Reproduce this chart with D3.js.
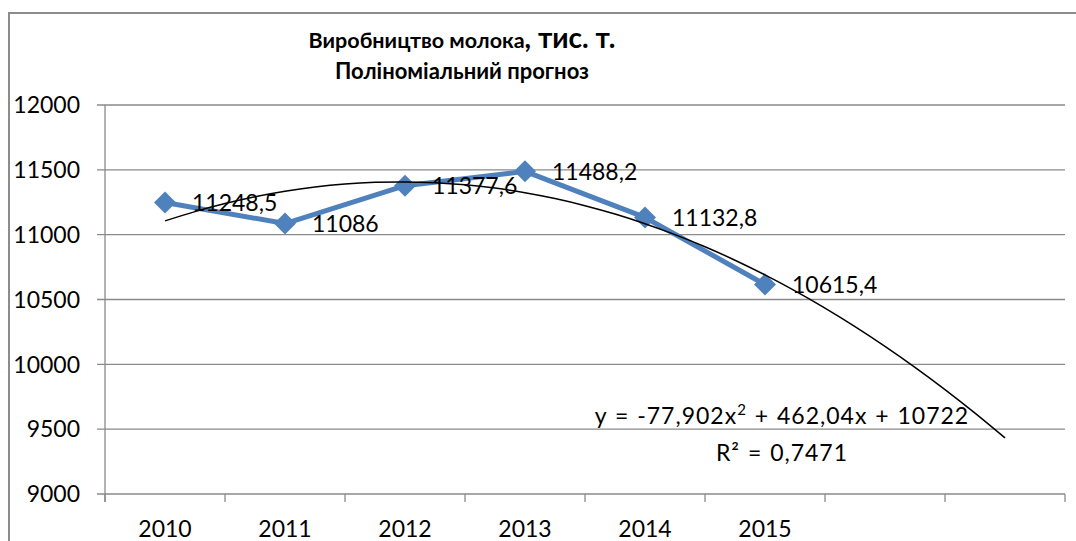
<!DOCTYPE html>
<html><head><meta charset="utf-8">
<script src="https://cdn.jsdelivr.net/npm/d3@7"></script>
<style>body{margin:0;background:#fff}svg{display:block}text{font-family:Lato,"Open Sans",sans-serif}</style>
</head><body><svg id="c" width="1076" height="541"></svg>
<script>
const categories = ["2010","2011","2012","2013","2014","2015","",""];
const values = [11248.5, 11086, 11377.6, 11488.2, 11132.8, 10615.4];
const labels = ["11248,5","11086","11377,6","11488,2","11132,8","10615,4"];
const yTicks = [9000, 9500, 10000, 10500, 11000, 11500, 12000];
const trendCoef = [-77.902, 462.04, 10722]; // y = a x^2 + b x + c
const trendX = [1,1.25,1.5,1.75,2,2.25,2.5,2.75,3,3.25,3.5,3.75,4,4.25,4.5,4.75,5,5.25,5.5,5.75,6,6.25,6.5,6.75,7,7.25,7.5,7.75,8];

const svg = d3.select("#c");
const L = 105, R = 1065, T = 105, B = 494;
const x = d3.scaleBand().domain(d3.range(categories.length)).range([L, R]).padding(0);
const y = d3.scaleLinear().domain([9000, 12000]).range([B, T]);
const xc = i => x(i) + x.bandwidth()/2;
const xn = n => L + (n - 0.5) * x.bandwidth();

// outer border
svg.append("path").attr("d", `M9,541 V13 H1076`).attr("fill","none").attr("stroke","#8c8c8c").attr("stroke-width",2);

// gridlines
svg.append("g").selectAll("line").data(yTicks).join("line")
  .attr("x1", L - 8).attr("x2", R).attr("y1", d => y(d)).attr("y2", d => y(d))
  .attr("stroke", "#8a8a8a").attr("stroke-width", 1.3);
// y labels
svg.append("g").selectAll("text").data(yTicks).join("text")
  .attr("x", 80).attr("y", d => y(d)).attr("dy", "0.36em").attr("text-anchor","end")
  .attr("font-size", 23).attr("fill","#000").text(d => d);
// y axis line
svg.append("line").attr("x1", L).attr("x2", L).attr("y1", T).attr("y2", B + 8).attr("stroke","#8a8a8a").attr("stroke-width",1.3);
// x ticks
svg.append("g").selectAll("line").data(d3.range(categories.length + 1)).join("line")
  .attr("x1", i => L + i * x.bandwidth()).attr("x2", i => L + i * x.bandwidth())
  .attr("y1", B).attr("y2", B + 8).attr("stroke","#8a8a8a").attr("stroke-width",1.3);
svg.append("g").selectAll("text").data(categories).join("text")
  .attr("x", (d,i) => xc(i)).attr("y", 537).attr("text-anchor","middle")
  .attr("font-size", 23).attr("fill","#000").text(d => d);

// title
const t1 = svg.append("text").attr("x", 462).attr("y", 48).attr("text-anchor","middle").attr("font-weight","bold").attr("fill","#000");
t1.append("tspan").attr("font-size", 21.5).text("Виробництво молока");
t1.append("tspan").attr("font-size", 28).text(", тис. т.");
svg.append("text").attr("x", 462).attr("y", 79).attr("text-anchor","middle").attr("font-weight","bold").attr("font-size",22).attr("fill","#000").text("Поліноміальний прогноз");

// series line
const line = d3.line().x((d,i) => xc(i)).y(d => y(d));
svg.append("path").datum(values).attr("d", line).attr("fill","none").attr("stroke","#4F81BD").attr("stroke-width",5).attr("stroke-linejoin","round");
svg.append("g").selectAll("path").data(values).join("path")
  .attr("transform", (d,i) => `translate(${xc(i)},${y(d)})`)
  .attr("d", "M0,-11 L11,0 L0,11 L-11,0 Z").attr("fill","#4F81BD");

// trendline
const tl = d3.line().x(d => xn(d)).y(d => y(trendCoef[0]*d*d + trendCoef[1]*d + trendCoef[2])).curve(d3.curveCatmullRom);
svg.append("path").datum(trendX).attr("d", tl).attr("fill","none").attr("stroke","#000").attr("stroke-width",1.5);

// data labels
svg.append("g").selectAll("text").data(values).join("text")
  .attr("x", (d,i) => xc(i) + 27).attr("y", d => y(d)).attr("dy","0.36em")
  .attr("font-size", 23).attr("fill","#000").text((d,i) => labels[i]);

// equation
const eq = svg.append("text").attr("x", 782).attr("y", 424).attr("text-anchor","middle").attr("font-size",23)
  .attr("letter-spacing","1px").attr("word-spacing","1px").attr("fill","#000");
eq.append("tspan").text("y = -77,902x");
eq.append("tspan").attr("font-size",15).attr("dy",-9).text("2");
eq.append("tspan").attr("dy",9).text(" + 462,04x + 10722");
svg.append("text").attr("x", 782).attr("y", 461).attr("text-anchor","middle").attr("font-size",23)
  .attr("letter-spacing","1px").attr("word-spacing","1px").attr("fill","#000").text("R² = 0,7471");
</script></body></html>
